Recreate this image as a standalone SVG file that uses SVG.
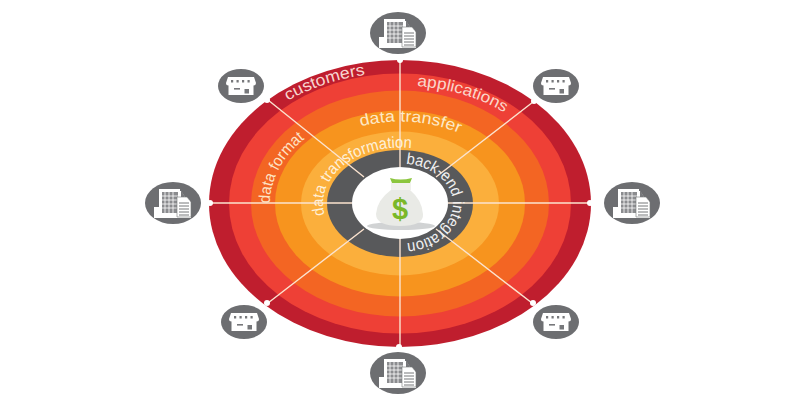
<svg xmlns="http://www.w3.org/2000/svg" xmlns:xlink="http://www.w3.org/1999/xlink" width="800" height="400" viewBox="0 0 800 400">
<style>
.lbl{font-family:"Liberation Sans",Arial,sans-serif;font-size:16px}
.spoke{stroke:#fbe3cf;stroke-width:1.4;fill:none}
.dot{fill:#fff}
.disc{fill:#6d6e71}
.w{fill:#fff}
.g{fill:#77787b}
</style>
<defs>
<path id="pc" d="M288 100.800A180 131 0 0 1 580 203.500"/>
<path id="pa" d="M417 86.100A164 118 0 0 1 564 203.500"/>
<path id="pt" d="M361 126.300A115 82 0 0 1 515 203.500"/>
<path id="pf" d="M270 203.500A130 95 0 0 1 400 108.500"/>
<path id="pd" d="M324.600 215A77 56 0 1 1 477 203.500"/>
<path id="pb" d="M406 163.800A53 40 0 1 1 347 203.500"/>
<g id="store">
<path class="w" d="M-13 -9H13L15 -3Q15 -0.500 12.500 -0.500V9H-12.500V-0.500Q-15 -0.500 -15 -3Z"/>
<g class="g"><rect x="-10" y="-6" width="2.200" height="2.500"/><rect x="-4.500" y="-6" width="2.200" height="2.500"/><rect x="1" y="-6" width="2.200" height="2.500"/><rect x="6.500" y="-6" width="2.200" height="2.500"/><rect x="-7" y="2" width="6" height="1.600"/><rect x="3.500" y="3" width="4.500" height="4.500"/></g>
</g>
<g id="office">
<path class="w" d="M-14 -14H7V-12H8L12 -6V-3H17V3L18 4V15H-19V4H-14Z"/>
<rect class="g" x="-11" y="-11" width="16" height="21" opacity=".85"/>
<path stroke="#fff" stroke-width=".8" fill="none" d="M-11 -7H5M-11 -3H5M-11 1H5M-11 5H5M-8 -11V10M-4 -11V10M0 -11V10"/>
<path class="w" d="M4 -6H14L18 -1V14H4Z" stroke="#77787b" stroke-width=".6"/>
<path stroke="#77787b" stroke-width="1" d="M6 0H16M6 3H16M6 6H16M6 9H16M6 12H16"/>
<path fill="#77787b" d="M8 -13L12 -6H8Z"/>
</g>
</defs>
<rect width="800" height="400" fill="#fff"/>
<g id="rings">
<ellipse cx="400" cy="203.500" rx="191" ry="143.500" fill="#bf1e2e"/>
<ellipse cx="400" cy="203.500" rx="171" ry="130" fill="#ee4036"/>
<ellipse cx="400" cy="203.500" rx="149" ry="113" fill="#f36523"/>
<ellipse cx="400" cy="203.500" rx="125" ry="93" fill="#f7941e"/>
<ellipse cx="400" cy="203.500" rx="99" ry="72" fill="#fbaf3c"/>
<ellipse cx="400" cy="203.500" rx="73" ry="53.500" fill="#58595b"/>
</g>
<g id="connectors">
<path class="spoke" d="M400 60V167M400 238V347M209 203H352M448 203H591M268 100L364 177M533 102L436 177M268 303L364 229M532 303L436 229"/>
<circle class="dot" cx="400" cy="60" r="3"/><circle class="dot" cx="399" cy="347" r="3"/>
<circle class="dot" cx="210" cy="203" r="3"/><circle class="dot" cx="590" cy="203" r="3"/>
<circle class="dot" cx="267" cy="100" r="3"/><circle class="dot" cx="534" cy="101" r="3"/>
<circle class="dot" cx="267" cy="303" r="3"/><circle class="dot" cx="533" cy="303" r="3"/>
</g>
<g id="center-bag">
<ellipse cx="400" cy="203" rx="48" ry="36" fill="#fff"/>
<ellipse cx="401" cy="226" rx="34" ry="4" fill="#d1d3d4"/>
<path d="M391 190Q377 200 376 214Q376 226 400 226Q424 226 423 214Q422 200 410 190Z" fill="#e9eae6"/>
<path d="M391 183H411V190H391Z" fill="#f1f1ee"/>
<path d="M390 178Q400 181 412 178L410 183H392Z" fill="#8cc63f"/>
<text x="400" y="219" text-anchor="middle" style="font-family:'Liberation Sans',Arial,sans-serif;font-size:29px;font-weight:bold" fill="#7ab829">$</text>
</g>
<g id="labels">
<text class="lbl" fill="#f8d5cf"><textPath href="#pc" xlink:href="#pc" textLength="82" lengthAdjust="spacingAndGlyphs">customers</textPath></text>
<text class="lbl" fill="#fad6cb"><textPath href="#pa" xlink:href="#pa" textLength="92" lengthAdjust="spacingAndGlyphs">applications</textPath></text>
<text class="lbl" fill="#fde9c8"><textPath href="#pt" xlink:href="#pt" textLength="100" lengthAdjust="spacingAndGlyphs">data transfer</textPath></text>
<text class="lbl" fill="#fde3c4"><textPath href="#pf" xlink:href="#pf" textLength="76" lengthAdjust="spacingAndGlyphs">data format</textPath></text>
<text class="lbl" fill="#fff0d8"><textPath href="#pd" xlink:href="#pd" textLength="128" lengthAdjust="spacingAndGlyphs">data transformation</textPath></text>
<text class="lbl" fill="#f1f1f2"><textPath href="#pb" xlink:href="#pb" textLength="134" lengthAdjust="spacingAndGlyphs">back-end integration</textPath></text>
</g>
<g id="node-top"><ellipse class="disc" cx="398" cy="33" rx="28" ry="21"/><use href="#office" xlink:href="#office" x="398" y="33"/></g>
<g id="node-bottom"><ellipse class="disc" cx="398" cy="373" rx="28" ry="21"/><use href="#office" xlink:href="#office" x="398" y="373"/></g>
<g id="node-left"><ellipse class="disc" cx="173" cy="203" rx="28" ry="21"/><use href="#office" xlink:href="#office" x="173" y="203"/></g>
<g id="node-right"><ellipse class="disc" cx="632" cy="203" rx="28" ry="21"/><use href="#office" xlink:href="#office" x="632" y="203"/></g>
<g id="node-tl"><ellipse class="disc" cx="241" cy="86" rx="23" ry="17"/><use href="#store" xlink:href="#store" x="241" y="86"/></g>
<g id="node-tr"><ellipse class="disc" cx="556" cy="86" rx="23" ry="17"/><use href="#store" xlink:href="#store" x="556" y="86"/></g>
<g id="node-bl"><ellipse class="disc" cx="244" cy="322" rx="23" ry="17"/><use href="#store" xlink:href="#store" x="244" y="322"/></g>
<g id="node-br"><ellipse class="disc" cx="556" cy="322" rx="23" ry="17"/><use href="#store" xlink:href="#store" x="556" y="322"/></g>
</svg>
